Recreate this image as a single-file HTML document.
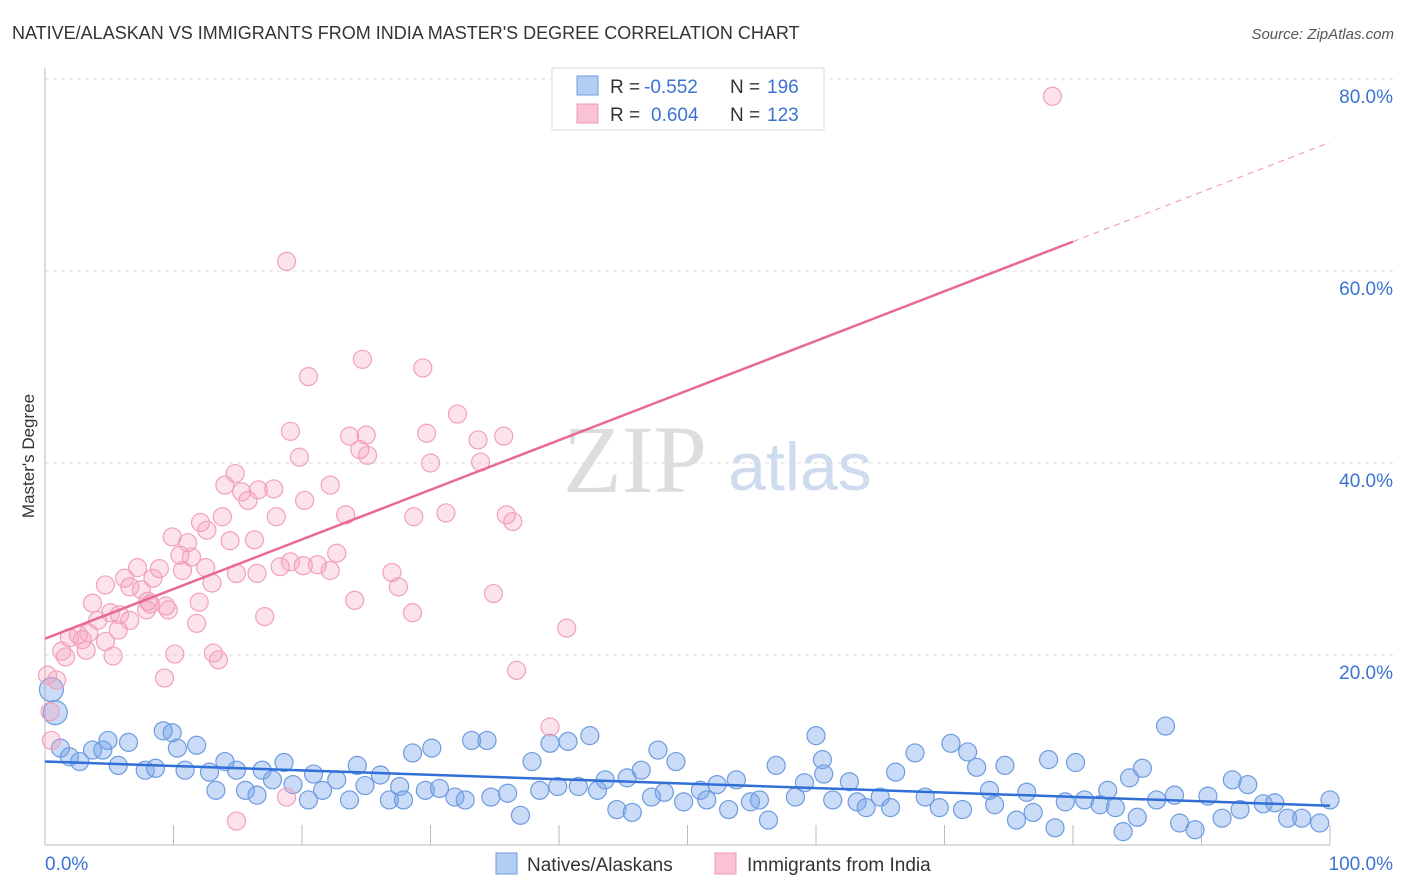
<!DOCTYPE html>
<html><head><meta charset="utf-8"><style>
body{margin:0;background:#fff;font-family:"Liberation Sans",sans-serif;}
#wrap{position:relative;width:1406px;height:892px;overflow:hidden;}
</style></head><body>
<div id="wrap">
<svg id="svg" width="1406" height="892" xmlns="http://www.w3.org/2000/svg">
<text x="12" y="39" font-size="18" fill="#333">NATIVE/ALASKAN VS IMMIGRANTS FROM INDIA MASTER'S DEGREE CORRELATION CHART</text>
<text x="1394" y="39" font-size="15" fill="#555" font-style="italic" text-anchor="end">Source: ZipAtlas.com</text>
<text x="34" y="456" font-size="17" fill="#333" text-anchor="middle" transform="rotate(-90 34 456)">Master's Degree</text>
<text x="635" y="492" font-size="96" fill="#ddd" font-family="Liberation Serif,serif" text-anchor="middle">ZIP</text>
<text x="800" y="490" font-size="68" fill="#cfdcf0" text-anchor="middle">atlas</text>
<g id="grid"></g><g id="pts"></g><g id="lines"></g>
<g>
<rect x="552" y="68" width="272" height="62" fill="#fff" stroke="#ddd"/>
<rect x="577" y="76" width="21" height="19" fill="#b4cdf3" stroke="#6e9be0"/>
<rect x="577" y="104" width="21" height="19" fill="#f9c3d3" stroke="#f09ab5"/>
<text x="610" y="93" font-size="19" fill="#333">R = </text><text x="644" y="93" font-size="19" fill="#3b73d1">-0.552</text>
<text x="730" y="93" font-size="19" fill="#333">N = </text><text x="767" y="93" font-size="19" fill="#3b73d1">196</text>
<text x="610" y="121" font-size="19" fill="#333">R = </text><text x="651" y="121" font-size="19" fill="#3b73d1">0.604</text>
<text x="730" y="121" font-size="19" fill="#333">N = </text><text x="767" y="121" font-size="19" fill="#3b73d1">123</text>
</g>
<g>
<rect x="496" y="853" width="21" height="21" fill="#b4cdf3" stroke="#6e9be0"/>
<text x="527" y="871" font-size="19" fill="#333">Natives/Alaskans</text>
<rect x="715" y="853" width="21" height="21" fill="#f9c3d3" stroke="#f09ab5"/>
<text x="747" y="871" font-size="19" fill="#333">Immigrants from India</text>
</g>
</svg>
</div>
<script>
const yTicks=[20,40,60,80];
const yTickLabels=["20.0%","40.0%","60.0%","80.0%"];
const xTickVals=[0,10,20,30,40,50,60,70,80,90,100];
const blueX=[0.5,0.8,1.2,1.9,2.7,3.7,4.5,4.9,5.7,6.5,7.8,8.6,9.2,9.9,10.3,10.9,11.8,12.8,13.3,14.0,14.9,15.6,16.5,16.9,17.7,18.6,19.3,20.5,20.9,21.6,22.7,23.7,24.3,24.9,26.1,26.8,27.6,27.9,28.6,29.6,30.1,30.7,31.9,32.7,33.2,34.4,34.7,36.0,37.0,37.9,38.5,39.3,39.9,40.7,41.5,42.4,43.0,43.6,44.5,45.3,45.7,46.4,47.2,47.7,48.2,49.1,49.7,51.0,51.5,52.3,53.2,53.8,54.9,55.6,56.3,56.9,58.4,59.1,60.0,60.5,60.6,61.3,62.6,63.2,63.9,65.0,65.8,66.2,67.7,68.5,69.6,70.5,71.4,71.8,72.5,73.5,73.9,74.7,75.6,76.4,76.9,78.1,78.6,79.4,80.2,80.9,82.1,82.7,83.3,83.9,84.4,85.0,85.4,86.5,87.2,87.9,88.3,89.5,90.5,91.6,92.4,93.0,93.6,94.8,95.7,96.7,97.8,99.2,100];
const blueY=[16.4,14.0,10.3,9.4,8.9,10.1,10.1,11.1,8.5,10.9,8.0,8.2,12.1,11.9,10.3,8.0,10.6,7.8,5.9,8.9,8.0,5.9,5.4,8.0,7.0,8.8,6.5,4.9,7.6,5.9,7.0,4.9,8.5,6.4,7.5,4.9,6.3,4.9,9.8,5.9,10.3,6.1,5.2,4.9,11.1,11.1,5.2,5.6,3.3,8.9,5.9,10.8,6.3,11.0,6.3,11.6,5.9,7.0,3.9,7.2,3.6,8.0,5.2,10.1,5.7,8.9,4.7,5.9,4.9,6.5,3.9,7.0,4.7,4.9,2.8,8.5,5.2,6.7,11.6,9.1,7.6,4.9,6.8,4.7,4.1,5.2,4.1,7.8,9.8,5.2,4.1,10.8,3.9,9.9,8.3,5.9,4.4,8.5,2.8,5.7,3.6,9.1,2.0,4.7,8.8,4.9,4.4,5.9,4.1,1.6,7.2,3.1,8.2,4.9,12.6,5.4,2.5,1.8,5.3,3.0,7.0,3.9,6.5,4.5,4.6,3.0,3.0,2.5,4.9];
const pinkX=[78.4,18.8,24.7,20.5,29.4,32.1,19.1,23.7,25.0,29.7,33.7,35.7,19.8,24.5,25.1,30.0,33.9,14.8,14.0,15.3,16.6,17.8,22.2,20.2,13.8,15.8,18.0,23.4,28.7,31.2,35.9,36.4,9.9,12.1,12.6,14.4,16.3,11.1,10.5,11.4,12.5,10.7,13.0,14.9,16.5,18.3,19.1,22.7,20.1,21.2,22.2,27.0,8.9,7.2,6.2,8.4,4.7,6.6,7.5,9.4,12.0,8.2,5.8,5.1,6.6,7.9,3.7,4.1,3.4,2.6,1.9,2.9,4.7,5.7,8.0,9.6,11.8,28.6,34.9,27.5,24.1,40.6,17.1,1.3,1.6,3.2,5.3,10.1,13.1,13.5,9.3,36.7,0.9,0.4,0.5,39.3,18.8,14.9,0.2];
const pinkY=[78.2,61.0,50.8,49.0,49.9,45.1,43.3,42.8,42.9,43.1,42.4,42.8,40.6,41.4,40.8,40.0,40.1,38.9,37.7,37.0,37.2,37.3,37.7,36.1,34.4,36.1,34.4,34.6,34.4,34.8,34.6,33.9,32.3,33.8,33.0,31.9,32.0,31.7,30.4,30.2,29.1,28.8,27.5,28.5,28.5,29.2,29.7,30.6,29.3,29.4,28.8,28.6,29.0,29.1,28.0,28.0,27.3,27.1,26.8,25.1,25.5,25.3,24.2,24.4,23.6,24.7,25.4,23.6,22.3,22.1,21.8,21.6,21.4,22.6,25.6,24.7,23.3,24.4,26.4,27.1,25.7,22.8,24.0,20.4,19.8,20.5,19.9,20.1,20.2,19.5,17.6,18.4,17.4,14.1,11.1,12.5,5.2,2.7,17.9];
const blueTrend=[8.9,4.3];
const pinkTrend=[21.7,73.4];
const pinkSolidEnd=80;
const NS="http://www.w3.org/2000/svg";
const X0=45,X1=1330,Y0=847,PY=9.6;
function sx(v){return X0+(X1-X0)*v/100;}
function sy(v){return Y0-v*PY;}
function mk(tag,attrs,parent){const e=document.createElementNS(NS,tag);for(const k in attrs)e.setAttribute(k,attrs[k]);parent.appendChild(e);return e;}
const grid=document.getElementById('grid'),pts=document.getElementById('pts'),lines=document.getElementById('lines');
yTicks.forEach((t,i)=>{
 const l=mk('line',{x1:X0,x2:1395,y1:sy(t),y2:sy(t),stroke:'#ddd','stroke-dasharray':'4,4'},grid);
 
 
 const tx=mk('text',{x:1393,y:sy(t)+24,'font-size':19,fill:'#3b73d1','text-anchor':'end'},grid);
 tx.textContent=yTickLabels[i];
 
 
});
const ax=mk('line',{x1:X0,x2:X1,y1:845,y2:845,stroke:'#bbb'},grid);


const ay=mk('line',{x1:X0,x2:X0,y1:68,y2:845,stroke:'#bbb'},grid);


xTickVals.forEach(v=>{const t=mk('line',{x1:sx(v),x2:sx(v),y1:825,y2:845,stroke:'#bbb'},grid);
 
 });
const xl0=mk('text',{x:45,y:870,'font-size':19,fill:'#3b73d1'},grid);xl0.textContent='0.0%';


const xl1=mk('text',{x:1393,y:870,'font-size':19,fill:'#3b73d1','text-anchor':'end'},grid);xl1.textContent='100.0%';


blueX.forEach((v,i)=>{const r=i<2?12:9;
 const c=mk('circle',{cx:sx(v),cy:sy(blueY[i]),r:r,fill:'rgba(120,165,235,0.4)',stroke:'#6e9be0','stroke-width':1.2},pts);
 
 });
pinkX.forEach((v,i)=>{
 const c=mk('circle',{cx:sx(v),cy:sy(pinkY[i]),r:9,fill:'rgba(245,160,190,0.3)',stroke:'#f2a0bb','stroke-width':1.2},pts);
 
 });
function py(x){return pinkTrend[0]+(pinkTrend[1]-pinkTrend[0])*x/100;}
const bl=mk('line',{x1:sx(0),y1:sy(blueTrend[0]),x2:sx(100),y2:sy(blueTrend[1]),stroke:'#2f6fd6','stroke-width':2.5},lines);


const pl=mk('line',{x1:sx(0),y1:sy(py(0)),x2:sx(pinkSolidEnd),y2:sy(py(pinkSolidEnd)),stroke:'#e8689a','stroke-width':2.5},lines);


const pd=mk('line',{x1:sx(pinkSolidEnd),y1:sy(py(pinkSolidEnd)),x2:sx(100),y2:sy(py(100)),stroke:'#f0a0bc','stroke-width':1.2,'stroke-dasharray':'6,5'},lines);


</script>
</body></html>
